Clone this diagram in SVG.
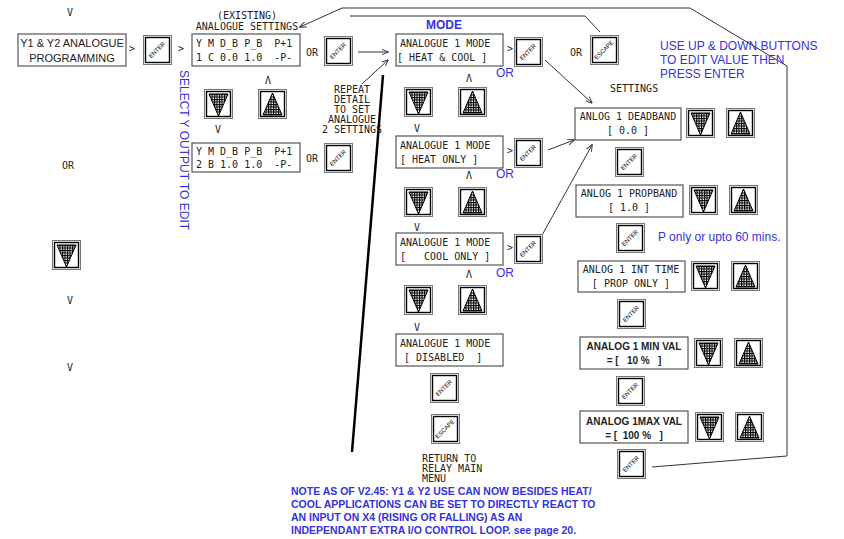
<svg xmlns="http://www.w3.org/2000/svg" width="844" height="539" viewBox="0 0 844 539">
<defs>
<pattern id="hatch" width="2.5" height="2.5" patternUnits="userSpaceOnUse"><rect width="2.5" height="2.5" fill="#fff"/><path d="M0 0.5H2.5M0.5 0V2.5" stroke="#000" stroke-width="1.2"/></pattern>
<marker id="ah" viewBox="0 0 10 10" refX="9" refY="5" markerWidth="7" markerHeight="7" orient="auto"><path d="M0 1L10 5L0 9" fill="none" stroke="#333" stroke-width="1.3"/></marker>
<g id="btn"><rect x="0.5" y="0.5" width="28" height="29" fill="#fff" stroke="#777" stroke-width="1"/><rect x="2.5" y="2.5" width="24" height="25" fill="none" stroke="#000" stroke-width="1.4"/></g>
<g id="ent"><use href="#btn"/><text x="14" y="17" transform="rotate(-45 14 15)" class="bt">ENTER</text></g>
<g id="esc"><use href="#btn"/><text x="14" y="17" transform="rotate(-45 14 15)" class="bt">ESCAPE</text></g>
<g id="dn"><use href="#btn"/><path d="M5 5H24L14.5 27Z" fill="url(#hatch)" stroke="#000"/></g>
<g id="up"><use href="#btn"/><path d="M5 26H24L14.5 4Z" fill="url(#hatch)" stroke="#000"/></g>
</defs>
<style>
.m{font-family:"DejaVu Sans Mono","Liberation Mono",monospace;font-size:10px;fill:#222}
.s{font-family:"Liberation Sans",Arial,sans-serif;font-size:11px;fill:#222}
.sb{font-family:"Liberation Sans",Arial,sans-serif;font-size:10px;font-weight:bold;fill:#222}
.b{font-family:"Liberation Sans",Arial,sans-serif;font-size:12px;fill:#3333dd}
.bb{font-family:"Liberation Sans",Arial,sans-serif;font-size:10.5px;font-weight:bold;fill:#3333dd}
.bt{font-family:"Liberation Sans",Arial,sans-serif;font-size:6px;text-anchor:middle;fill:#000}
.box{fill:#fff;stroke:#555;stroke-width:1.2}
.ln{fill:none;stroke:#333;stroke-width:1}
.mid{text-anchor:middle}
</style>
<rect width="844" height="539" fill="#fff"/>
<g id="connectors">
<path class="ln" d="M652 467L787 456V66L690 8H342L300 27" marker-end="url(#ah)"/>
<path class="ln" d="M350 16H585L600 32"/>
<path class="ln" d="M358 52H388" marker-end="url(#ah)"/>
<path class="ln" d="M362 84L388 60" marker-end="url(#ah)"/>
<path d="M383 75L352 452" stroke="#000" stroke-width="2.5"/>
<path class="ln" d="M545 60L592 103" marker-end="url(#ah)"/>
<path class="ln" d="M548 150L574 140" marker-end="url(#ah)"/>
<path class="ln" d="M541 237L592 145" marker-end="url(#ah)"/>
</g>
<g id="texts">
<text class="m mid" x="70" y="16">V</text>
<text class="m mid" x="70" y="304">V</text>
<text class="m mid" x="70" y="371">V</text>
<text class="m" x="62" y="169">OR</text>
<text class="m mid" x="247" y="19">(EXISTING)</text>
<text class="m mid" x="247" y="30">ANALOGUE SETTINGS</text>
<text class="m mid" x="352" y="93">REPEAT</text>
<text class="m mid" x="352" y="103">DETAIL</text>
<text class="m mid" x="352" y="113">TO SET</text>
<text class="m mid" x="352" y="123">ANALOGUE</text>
<text class="m mid" x="352" y="133">2 SETTINGS</text>
<text class="b" transform="translate(180 70) rotate(90)">SELECT Y OUTPUT  TO EDIT</text>
<text class="bb" x="426" y="29" style="font-size:12px">MODE</text>
<text class="m" x="610" y="92">SETTINGS</text>
<text class="b" x="660" y="50">USE UP &amp; DOWN BUTTONS</text>
<text class="b" x="660" y="64">TO EDIT VALUE THEN</text>
<text class="b" x="660" y="78">PRESS ENTER</text>
<text class="b" x="658" y="241">P only or upto 60 mins.</text>
<text class="m" x="422" y="462">RETURN TO</text>
<text class="m" x="422" y="472">RELAY MAIN</text>
<text class="m" x="422" y="482">MENU</text>
<text class="bb" x="291" y="495">NOTE AS OF V2.45: Y1 &amp; Y2 USE CAN NOW BESIDES HEAT/</text>
<text class="bb" x="291" y="508">COOL APPLICATIONS CAN BE SET TO DIRECTLY REACT TO</text>
<text class="bb" x="291" y="521">AN INPUT ON X4 (RISING OR FALLING) AS AN</text>
<text class="bb" x="291" y="534">INDEPENDANT EXTRA I/O CONTROL LOOP. see page 20.</text>
<text class="m" x="129" y="52">&gt;</text>
<text class="m" x="178" y="52">&gt;</text>
<text class="m" x="306" y="56">OR</text>
<text class="m" x="306" y="162">OR</text>
<text class="m mid" x="268" y="84">Λ</text>
<text class="m mid" x="218" y="133">V</text>
<text class="m" x="570" y="56">OR</text>
</g>
<g id="prog"><rect class="box" x="18" y="34" width="108" height="32"/><text class="s mid" x="72" y="47">Y1 &amp; Y2 ANALOGUE</text><text class="s mid" x="72" y="62">PROGRAMMING</text></g>
<use id="ent0" href="#ent" x="143" y="35"/>
<g id="y1"><rect class="box" x="192" y="34" width="108" height="32"/><text class="m" x="196" y="47" xml:space="preserve">Y M D_B P_B  P+1</text><text class="m" x="196" y="61" xml:space="preserve">1 C 0.0 1.0  -P-</text></g>
<g id="y2"><rect class="box" x="192" y="143" width="108" height="29"/><text class="m" x="196" y="155" xml:space="preserve">Y M D_B P_B  P+1</text><text class="m" x="196" y="168" xml:space="preserve">2 B 1.0 1.0  -P-</text></g>
<use href="#dn" x="204" y="89"/><use href="#up" x="258" y="89"/>
<use href="#ent" x="324" y="36"/><use href="#ent" x="324" y="143"/>
<use href="#dn" x="52" y="240"/>
<g id="mode1"><rect class="box" x="396" y="34" width="107" height="32"/><text class="m" x="400" y="47">ANALOGUE 1 MODE</text><text class="m" x="397" y="61" xml:space="preserve">[ HEAT &amp; COOL ]</text></g>
<g id="mode2"><rect class="box" x="396" y="136" width="107" height="32"/><text class="m" x="400" y="149">ANALOGUE 1 MODE</text><text class="m" x="400" y="163" xml:space="preserve">[ HEAT ONLY ]</text></g>
<g id="mode3"><rect class="box" x="396" y="233" width="107" height="32"/><text class="m" x="400" y="246">ANALOGUE 1 MODE</text><text class="m" x="400" y="260" xml:space="preserve">[   COOL ONLY ]</text></g>
<g id="mode4"><rect class="box" x="396" y="334" width="107" height="32"/><text class="m" x="400" y="347">ANALOGUE 1 MODE</text><text class="m" x="404" y="361" xml:space="preserve">[ DISABLED  ]</text></g>
<g class="m"><text x="507" y="52">&gt;</text><text x="507" y="154">&gt;</text><text x="507" y="251">&gt;</text>
<text x="466" y="82">Λ</text><text x="466" y="179">Λ</text><text x="466" y="278">Λ</text>
<text x="414" y="132">V</text><text x="414" y="231">V</text><text x="414" y="331">V</text></g>
<g class="b"><text x="496" y="77">OR</text><text x="496" y="178">OR</text><text x="496" y="277">OR</text></g>
<use href="#ent" x="514" y="37"/><use href="#ent" x="514" y="138"/><use href="#ent" x="514" y="234"/>
<use href="#dn" x="404" y="87"/><use href="#up" x="458" y="87"/>
<use href="#dn" x="404" y="187"/><use href="#up" x="458" y="187"/>
<use href="#dn" x="404" y="285"/><use href="#up" x="458" y="285"/>
<use href="#ent" x="430" y="373"/><use href="#esc" x="431" y="414"/>
<use href="#esc" x="590" y="35"/>
<g id="db"><rect class="box" x="575" y="108" width="106" height="32"/><text class="m mid" x="628" y="120">ANLOG 1 DEADBAND</text><text class="m mid" x="628" y="134">[ 0.0 ]</text></g>
<use href="#dn" x="686" y="108"/><use href="#up" x="726" y="108"/><use href="#ent" x="615" y="147"/>
<g id="pb"><rect class="box" x="576" y="185" width="107" height="32"/><text class="m mid" x="629" y="197">ANLOG 1 PROPBAND</text><text class="m mid" x="629" y="211">[ 1.0 ]</text></g>
<use href="#dn" x="689" y="185"/><use href="#up" x="729" y="185"/><use href="#ent" x="616" y="223"/>
<g id="it"><rect class="box" x="578" y="261" width="107" height="31"/><text class="m mid" x="631" y="273" xml:space="preserve">ANLOG 1 INT TIME</text><text class="m mid" x="631" y="287" xml:space="preserve">[ PROP ONLY ]</text></g>
<use href="#dn" x="691" y="261"/><use href="#up" x="731" y="261"/><use href="#ent" x="617" y="299"/>
<g id="min"><rect class="box" x="580" y="337" width="108" height="32"/><text class="sb mid" x="634" y="350">ANALOG 1 MIN VAL</text><text class="sb mid" x="634" y="364" xml:space="preserve">= [   10 %   ]</text></g>
<use href="#dn" x="694" y="338"/><use href="#up" x="734" y="338"/><use href="#ent" x="616" y="376"/>
<g id="max"><rect class="box" x="580" y="411" width="108" height="32"/><text class="sb mid" x="634" y="425">ANALOG 1MAX VAL</text><text class="sb mid" x="634" y="439" xml:space="preserve">= [  100 %   ]</text></g>
<use href="#dn" x="695" y="412"/><use href="#up" x="735" y="412"/><use href="#ent" x="617" y="449"/>
</svg>
